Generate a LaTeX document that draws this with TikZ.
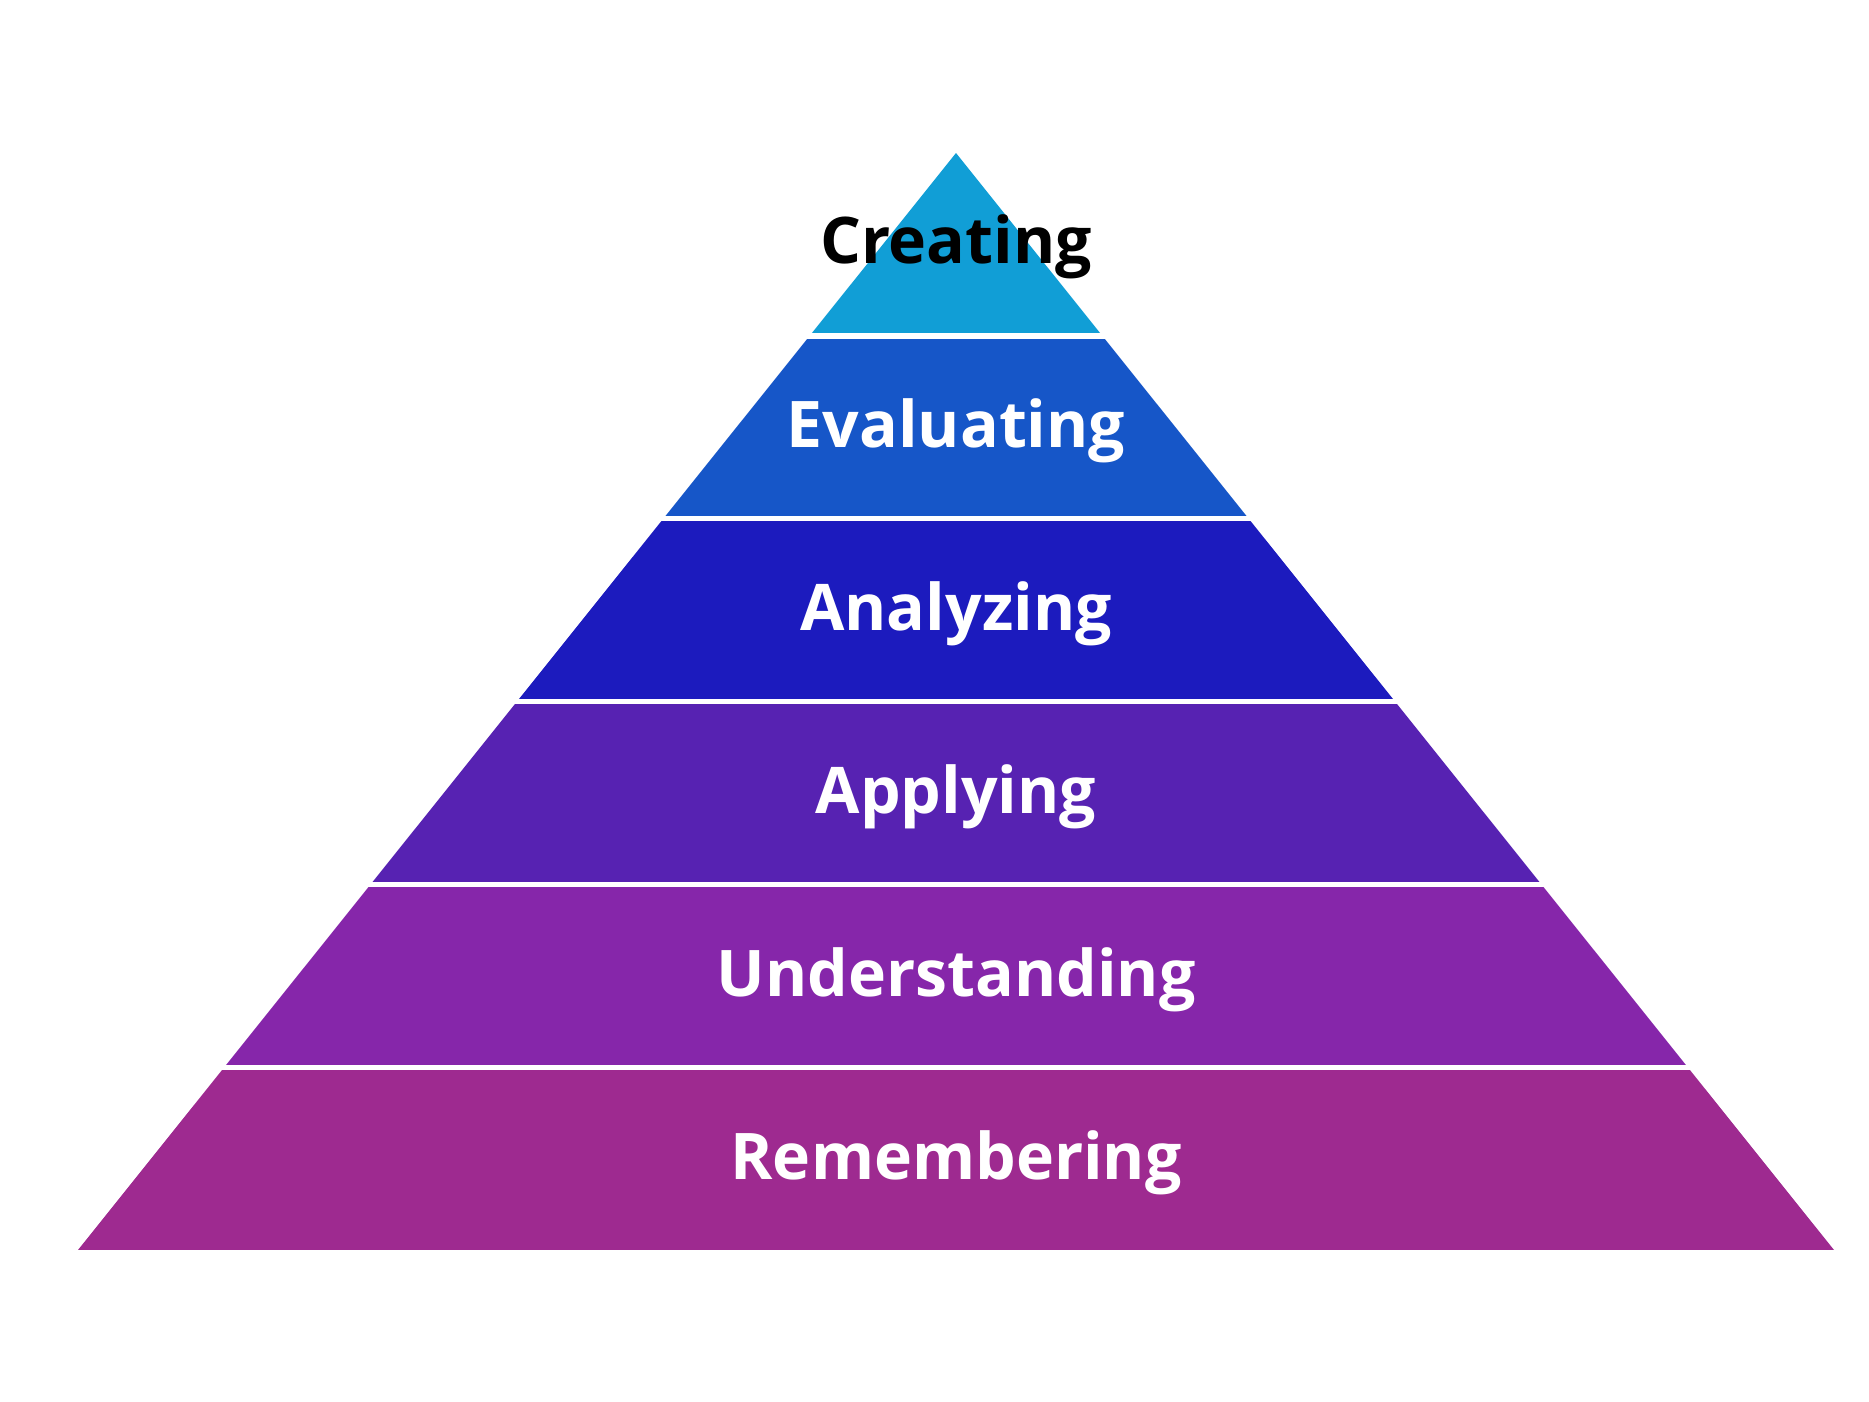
\documentclass[tikz,border=0pt]{standalone}
\usepackage{fontspec}
\setmainfont{Open Sans}
\usetikzlibrary{positioning,calc}

\definecolor{rememberpurple}{RGB}{158,42,144}
\definecolor{understandpurple}{RGB}{134,38,170}
\definecolor{applyviolet}{RGB}{87,34,178}
\definecolor{analyzeblue}{RGB}{28,27,190}
\definecolor{evaluateblue}{RGB}{22,86,200}
\definecolor{createblue}{RGB}{17,158,214}

\tikzset{
  layergap/.style={draw=white, line width=1.5pt},
  lvllabel/.style={anchor=base, font=\fontsize{18.3}{20}\selectfont\bfseries, inner sep=0pt}
}

\begin{document}
\begin{tikzpicture}
  \useasboundingbox (0,0) rectangle (18.69,14.02);

  % Layers, bottom to top
  \foreach \name/\txt/\col/\tcol [count=\i from 0] in {
      remembering/Remembering/rememberpurple/white,
      understanding/Understanding/understandpurple/white,
      applying/Applying/applyviolet/white,
      analyzing/Analyzing/analyzeblue/white,
      evaluating/Evaluating/evaluateblue/white,
      creating/Creating/createblue/black}
  {
    \pgfmathsetmacro\ylo{1.52+\i*1.828}
    \pgfmathsetmacro\yhi{\ylo+1.828}
    \pgfmathsetmacro\wlo{8.78*(12.49-\ylo)/10.97}
    \pgfmathsetmacro\whi{max(0,8.78*(12.49-\yhi)/10.97)}
    \fill[\col] (9.56-\wlo,\ylo) -- (9.56+\wlo,\ylo)
      -- (9.56+\whi,\yhi) -- (9.56-\whi,\yhi) -- cycle;
    \ifnum\i>0
      \draw[layergap] (9.56-\wlo-0.05,\ylo) -- (9.56+\wlo+0.05,\ylo);
    \fi
    \node[lvllabel, text=\tcol] (\name) at (9.56, 2.22+\i*1.832) {\txt};
  }
\end{tikzpicture}
\end{document}
